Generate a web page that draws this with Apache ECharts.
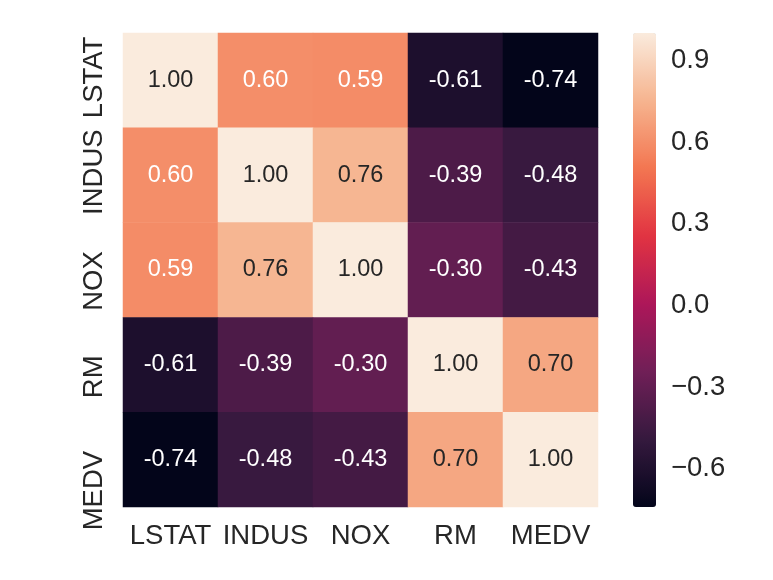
<!DOCTYPE html>
<html>
<head>
<meta charset="utf-8">
<script src="https://cdn.jsdelivr.net/npm/echarts@6/dist/echarts.min.js"></script>
<style>html,body{margin:0;padding:0;background:#fff}#c{width:773px;height:580px}</style>
</head>
<body>
<div id="c"></div>
<script>
const names = ['LSTAT', 'INDUS', 'NOX', 'RM', 'MEDV'];
const rowLSTAT = [1.00, 0.60, 0.59, -0.61, -0.74];
const rowINDUS = [0.60, 1.00, 0.76, -0.39, -0.48];
const rowNOX   = [0.59, 0.76, 1.00, -0.30, -0.43];
const rowRM    = [-0.61, -0.39, -0.30, 1.00, 0.70];
const rowMEDV  = [-0.74, -0.48, -0.43, 0.70, 1.00];
const colorbarTicks = [-0.6, -0.3, 0.0, 0.3, 0.6, 0.9];
const vmin = -0.74, vmax = 1.00;

const rows = [rowLSTAT, rowINDUS, rowNOX, rowRM, rowMEDV];
const rocket = ['#03051a', '#35193e', '#701f57', '#ad1759', '#e13342', '#f37651', '#f6b48f', '#faebdd'];
const dark = '#262626';
const font = "'Liberation Sans', Arial, sans-serif";
const fs = 27.5;

const data = [];
rows.forEach((r, yi) => r.forEach((v, xi) => {
  data.push({ value: [xi, yi, v], label: { color: v >= 0.65 ? dark : '#ffffff' } });
}));

// per-label vertical shift (screen px, down positive) of y tick labels
const yShift = [-3, -3, 11, 12, 31];
const rich = {};
yShift.forEach((d, i) => {
  rich['r' + i] = {
    fontSize: fs, fontFamily: font, color: dark,
    padding: d >= 0 ? [0, 2 * d, 0, 0] : [0, 0, 0, -2 * d]
  };
});

const chart = echarts.init(document.getElementById('c'), null, { renderer: 'canvas' });
chart.setOption({
  animation: false,
  backgroundColor: '#ffffff',
  grid: [
    { left: 123, top: 33, width: 475, height: 474 },
    { left: 633, top: 33, width: 23, height: 474 }
  ],
  xAxis: [
    { type: 'category', data: names, gridIndex: 0,
      axisLine: { show: false }, axisTick: { show: false }, splitLine: { show: false },
      axisLabel: { interval: 0, hideOverlap: false, fontSize: fs, fontFamily: font, color: dark, margin: 15 } },
    { type: 'value', gridIndex: 1, show: false, min: 0, max: 1 }
  ],
  yAxis: [
    { type: 'category', data: names, gridIndex: 0, inverse: true,
      axisLine: { show: false }, axisTick: { show: false }, splitLine: { show: false },
      axisLabel: { interval: 0, hideOverlap: false, rotate: 90, margin: 15, fontSize: fs, fontFamily: font, color: dark,
        formatter: (v, i) => '{r' + i + '|' + v + '}', rich: rich } },
    { type: 'value', gridIndex: 1, position: 'right', min: vmin, max: vmax,
      axisLine: { show: false }, splitLine: { show: false },
      axisTick: { show: true, length: 6, customValues: colorbarTicks,
        lineStyle: { color: dark, width: 1.2 } },
      axisLabel: { show: true, margin: 15, fontSize: fs, fontFamily: font, color: dark,
        customValues: colorbarTicks,
        formatter: v => (v < -1e-9 ? '\u2212' : '') + Math.abs(v).toFixed(1) } }
  ],
  visualMap: {
    type: 'continuous', min: vmin, max: vmax, seriesIndex: 0,
    orient: 'vertical', left: 633, top: 33, itemWidth: 23, itemHeight: 474,
    padding: 0, calculable: false, hoverLink: false, text: null,
    inRange: { color: rocket }
  },
  series: [
    { type: 'heatmap', xAxisIndex: 0, yAxisIndex: 0, data: data,
      label: { show: true, fontSize: 23.5, fontFamily: font,
        formatter: p => p.value[2].toFixed(2) },
      emphasis: { disabled: true } },
    { type: 'line', xAxisIndex: 1, yAxisIndex: 1, data: [], silent: true }
  ]
});
</script>
</body>
</html>
